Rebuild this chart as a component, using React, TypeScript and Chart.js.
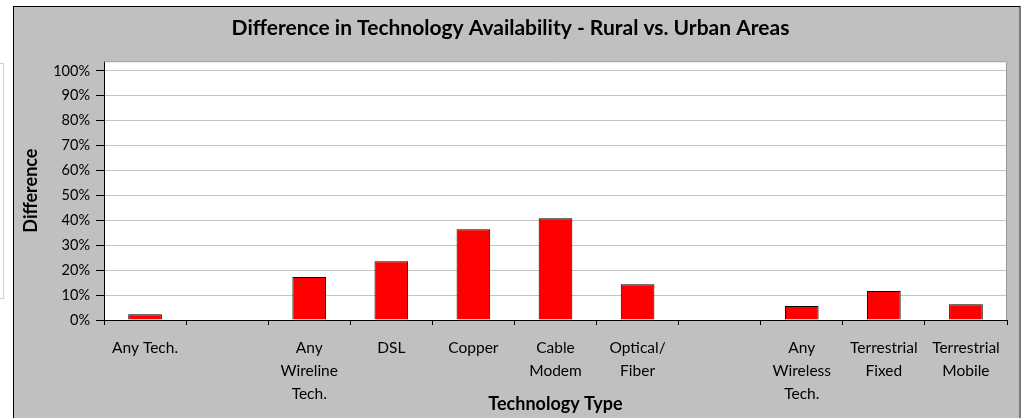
import React, { useEffect, useRef } from "react";
import { Chart, registerables } from "chart.js";

Chart.register(...registerables);

const categories: (string | string[])[] = [
  "Any Tech.",
  "",
  ["Any", "Wireline", "Tech."],
  "DSL",
  "Copper",
  ["Cable", "Modem"],
  ["Optical/", "Fiber"],
  "",
  ["Any", "Wireless", "Tech."],
  ["Terrestrial", "Fixed"],
  ["Terrestrial", "Mobile"],
];

const differenceValues: (number | null)[] = [
  0.023, null, 0.173, 0.236, 0.364, 0.408, 0.144, null, 0.056, 0.116, 0.063,
];

const yTickValues: number[] = [0, 0.1, 0.2, 0.3, 0.4, 0.5, 0.6, 0.7, 0.8, 0.9, 1.0];

const chartTitle = "Difference in Technology Availability - Rural vs. Urban Areas";
const xTitle = "Technology Type";
const yTitle = "Difference";

const FONT = "Lato, 'Open Sans', sans-serif";

const plotAreaPlugin = {
  id: "plotArea",
  beforeDraw(chart: any) {
    const { ctx, chartArea } = chart;
    ctx.save();
    ctx.fillStyle = "#ffffff";
    ctx.fillRect(chartArea.left, chartArea.top, chartArea.right - chartArea.left, chartArea.bottom - chartArea.top);
    ctx.restore();
  },
  afterDatasetsDraw(chart: any) {
    const { ctx, chartArea } = chart;
    ctx.save();
    ctx.strokeStyle = "#9a9a9a";
    ctx.lineWidth = 1;
    ctx.beginPath();
    ctx.moveTo(chartArea.left, chartArea.top + 0.5);
    ctx.lineTo(chartArea.right - 0.5, chartArea.top + 0.5);
    ctx.lineTo(chartArea.right - 0.5, chartArea.bottom);
    ctx.stroke();
    ctx.restore();
  },
};

export default function App() {
  const canvasRef = useRef<HTMLCanvasElement | null>(null);

  useEffect(() => {
    if (!canvasRef.current) return;
    const chart = new Chart(canvasRef.current, {
      type: "bar",
      data: {
        labels: categories as any,
        datasets: [
          {
            label: "Difference",
            data: differenceValues as any,
            backgroundColor: "#ff0000",
            borderColor: "#000000",
            borderWidth: 1,
            barPercentage: 0.41,
            categoryPercentage: 1.0,
          },
        ],
      },
      options: {
        responsive: false,
        animation: false,
        layout: { padding: { left: 14, right: 18, top: 0, bottom: 0 } },
        plugins: {
          legend: { display: false },
          tooltip: { enabled: false },
          title: {
            display: true,
            text: chartTitle,
            color: "#000000",
            font: { family: FONT, size: 21, weight: "bold", lineHeight: 1.2 },
            padding: { top: 16, bottom: 20 },
          },
        },
        scales: {
          x: {
            offset: true,
            grid: {
              offset: true,
              drawOnChartArea: false,
              tickLength: 5,
              tickColor: "#000000",
            },
            border: { color: "#000000", width: 1 },
            ticks: {
              color: "#000000",
              font: { family: FONT, size: 15.5, lineHeight: 1.5 },
              padding: 11,
              maxRotation: 0,
              autoSkip: false,
            },
            title: {
              display: true,
              text: xTitle,
              color: "#000000",
              font: { family: FONT, size: 18, weight: "bold", lineHeight: 1.2 },
              padding: { top: 0, bottom: 3 },
            },
            afterFit(scale: any) {
              scale.height = 98;
            },
          },
          y: {
            min: 0,
            max: 1.039,
            grid: {
              color: "#c4c4c4",
              tickLength: 8,
              tickColor: "#000000",
            },
            border: { color: "#000000", width: 1 },
            ticks: {
              stepSize: 0.1,
              color: "#000000",
              font: { family: FONT, size: 14.5 },
              padding: 6,
              callback: (v: any) => Math.round(Number(v) * 100) + "%",
            },
            afterBuildTicks(scale: any) {
              scale.ticks = yTickValues.map((v) => ({ value: v }));
            },
            title: {
              display: true,
              text: yTitle,
              color: "#000000",
              font: { family: FONT, size: 18, weight: "bold", lineHeight: 1.2 },
              padding: { top: 6, bottom: 0 },
            },
            afterFit(scale: any) {
              scale.width = 90;
            },
          },
        },
      },
      plugins: [plotAreaPlugin],
    });
    return () => chart.destroy();
  }, []);

  return (
    <div
      style={{
        position: "fixed",
        left: 0,
        top: 0,
        width: 1025,
        height: 418,
        overflow: "hidden",
        background: "#ffffff",
      }}
    >
      <div
        style={{
          position: "absolute",
          left: -10,
          top: 63,
          width: 14,
          height: 236,
          boxSizing: "border-box",
          border: "1px solid #cfcfcf",
          background: "#ffffff",
        }}
      />
      <div
        style={{
          position: "absolute",
          left: 13,
          top: 6,
          width: 1008,
          height: 430,
          boxSizing: "border-box",
          background: "#c0c0c0",
          borderLeft: "1px solid #000000",
          borderTop: "1px solid #000000",
          borderRight: "2px solid #7a7a7a",
        }}
      />
      <canvas
        ref={canvasRef}
        width={1025}
        height={418}
        style={{ position: "absolute", left: 0, top: 0, width: 1025, height: 418 }}
      />
    </div>
  );
}
